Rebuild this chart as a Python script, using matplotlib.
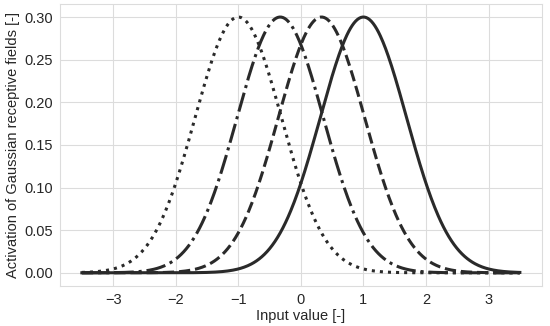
import numpy as np
import matplotlib
matplotlib.use("Agg")
import matplotlib.pyplot as plt

# Gaussian receptive field parameters
centers = [-1.0, -0.33, 0.33, 1.0]
sigma = 0.69
amplitude = 0.30
x_min, x_max = -3.5, 3.5
styles = [":", "-.", "--", "-"]

plt.rcParams['font.family'] = ['Liberation Sans', 'DejaVu Sans']
plt.rcParams['font.size'] = 10.5

fig = plt.figure(figsize=(5.5, 3.26), dpi=100)
ax = fig.add_axes([0.109, 0.124, 0.876, 0.863])

x = np.linspace(x_min, x_max, 500)
for c, ls in zip(centers, styles):
    y = amplitude * np.exp(-(x - c) ** 2 / (2 * sigma ** 2))
    ax.plot(x, y, linestyle=ls, color='#2a2a2a', linewidth=2.2)

ax.set_facecolor('white')
ax.grid(True, color='#dcdcdc', linewidth=0.8)
ax.set_axisbelow(True)
for s in ax.spines.values():
    s.set_color('#dcdcdc')
    s.set_linewidth(0.8)
ax.tick_params(length=0, pad=5, labelsize=10.5, colors='#262626')
ax.set_xticks([-3, -2, -1, 0, 1, 2, 3])
ax.set_yticks([0.0, 0.05, 0.10, 0.15, 0.20, 0.25, 0.30])
ax.set_yticklabels(['0.00', '0.05', '0.10', '0.15', '0.20', '0.25', '0.30'])
ax.set_xticklabels(['\u22123', '\u22122', '\u22121', '0', '1', '2', '3'])
ax.set_xlabel('Input value [-]', color='#262626', labelpad=2)
ax.set_ylabel('Activation of Gaussian receptive fields [-]', color='#262626', labelpad=3)

fig.savefig('out.png', dpi=100)
